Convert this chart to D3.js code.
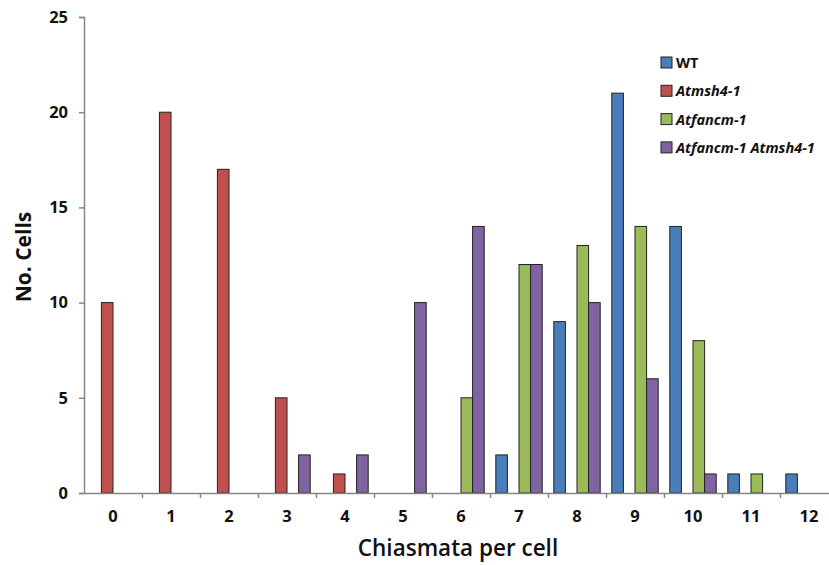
<!DOCTYPE html>
<html>
<head>
<meta charset="utf-8">
<script src="https://cdn.jsdelivr.net/npm/d3@7"></script>
<style>
  body { margin: 0; background: #fff; }
  text { font-family: "Open Sans", "Liberation Sans", sans-serif; }
</style>
</head>
<body>
<div id="chart"></div>
<script>
// chiasmata per cell, 0..12
const categories = [0, 1, 2, 3, 4, 5, 6, 7, 8, 9, 10, 11, 12];
const seriesNames = ["WT", "Atmsh4-1", "Atfancm-1", "Atfancm-1 Atmsh4-1"];
const seriesColors = ["#4a7ebb", "#c0504d", "#9bbb59", "#8064a2"];
const italicSeries = [false, true, true, true];

const wtValues      = [0, 0, 0, 0, 0, 0, 0, 2, 9, 21, 14, 1, 1];
const msh4Values    = [10, 20, 17, 5, 1, 0, 0, 0, 0, 0, 0, 0, 0];
const fancmValues   = [0, 0, 0, 0, 0, 0, 5, 12, 13, 14, 8, 1, 0];
const doubleValues  = [0, 0, 0, 2, 2, 10, 14, 12, 10, 6, 1, 0, 0];
const yTicks = [0, 5, 10, 15, 20, 25];

const allValues = [wtValues, msh4Values, fancmValues, doubleValues];

const W = 829, H = 565;
const margin = { top: 17, left: 84 };
const bandStep = 58;
const bottomY = 493;

const svg = d3.select("#chart").append("svg")
    .attr("width", W)
    .attr("height", H);

const x = d3.scaleBand()
    .domain(categories)
    .range([margin.left, margin.left + bandStep * categories.length])
    .padding(0);

const xSub = d3.scaleBand()
    .domain(seriesNames)
    .range([0, x.bandwidth()])
    .paddingInner(0)
    .paddingOuter(0.5);

const y = d3.scaleLinear()
    .domain([0, 25])
    .range([bottomY, margin.top]);

// flatten for drawing
const rows = [];
categories.forEach((c, i) => {
    seriesNames.forEach((s, j) => {
        const v = allValues[j][i];
        if (v > 0) rows.push({ cat: c, series: s, idx: j, value: v });
    });
});

svg.append("g")
    .selectAll("rect")
    .data(rows)
    .join("rect")
    .attr("x", d => x(d.cat) + xSub(d.series))
    .attr("width", xSub.bandwidth())
    .attr("y", d => y(d.value))
    .attr("height", d => y(0) - y(d.value))
    .attr("fill", d => seriesColors[d.idx])
    .attr("stroke", "#222")
    .attr("stroke-width", 1);

// y axis
const yAxis = svg.append("g")
    .attr("transform", `translate(${margin.left},0)`)
    .call(d3.axisLeft(y).tickValues(yTicks).tickSize(5).tickPadding(11));

// x axis: boundary tick marks
const xEdges = d3.scaleLinear()
    .domain([0, categories.length])
    .range(x.range());
const xAxis = svg.append("g")
    .attr("transform", `translate(0,${bottomY})`)
    .call(d3.axisBottom(xEdges).tickValues(d3.range(1, categories.length)).tickFormat("").tickSize(5).tickSizeOuter(0));

// x axis labels
const xLabels = svg.append("g")
    .attr("transform", `translate(0,${bottomY})`)
    .call(d3.axisBottom(x).tickSize(0).tickPadding(17));
xLabels.select(".domain").remove();

[yAxis, xAxis].forEach(g => {
    g.select(".domain").attr("stroke", "#868686").attr("stroke-width", 1.5);
    g.selectAll(".tick line").attr("stroke", "#868686").attr("stroke-width", 1.5);
});
[yAxis, xLabels].forEach(g => {
    g.selectAll(".tick text")
        .attr("fill", "#111")
        .style("font-size", "16.5px")
        .style("font-weight", 700);
});

// axis titles
svg.append("text")
    .attr("x", 458)
    .attr("y", 556)
    .attr("text-anchor", "middle")
    .style("font-size", "22.5px")
    .style("font-weight", 600)
    .attr("fill", "#111")
    .text("Chiasmata per cell");

svg.append("text")
    .attr("transform", "translate(31,257) rotate(-90)")
    .attr("text-anchor", "middle")
    .style("font-size", "21px")
    .style("font-weight", 700)
    .attr("fill", "#111")
    .text("No. Cells");

// legend
const legend = svg.append("g")
    .attr("transform", "translate(661,63)");

const item = legend.selectAll("g")
    .data(seriesNames)
    .join("g")
    .attr("transform", (d, i) => `translate(0,${i * 28.3})`);

item.append("rect")
    .attr("x", 0)
    .attr("y", -6)
    .attr("width", 11)
    .attr("height", 11)
    .attr("fill", (d, i) => seriesColors[i])
    .attr("stroke", "#222")
    .attr("stroke-width", 1);

item.append("text")
    .attr("x", 15)
    .attr("y", 5)
    .style("font-size", "14.5px")
    .style("font-weight", 700)
    .style("font-style", (d, i) => italicSeries[i] ? "italic" : "normal")
    .attr("fill", "#111")
    .text(d => d);
</script>
</body>
</html>
